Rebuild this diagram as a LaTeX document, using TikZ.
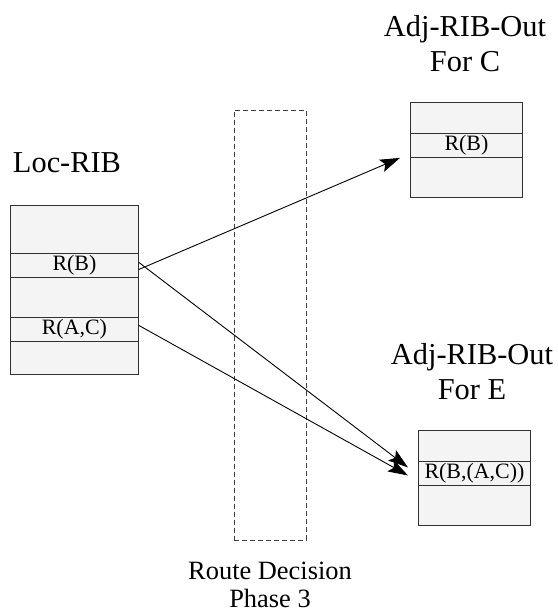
\documentclass[tikz,border=0pt]{standalone}
\usepackage{fontspec}
\setmainfont{Liberation Serif}
\usetikzlibrary{arrows.meta}
\usetikzlibrary{positioning}
\definecolor{rib-fill}{HTML}{F4F4F4}
\definecolor{rib-line}{HTML}{303030}

\begin{document}
\begin{tikzpicture}[x=1bp, y=-1bp,
  ribtable/.style={draw=rib-line, fill=rib-fill, line width=0.9bp, inner sep=0, anchor=north west},
  ribrow/.style={draw=rib-line, fill=rib-fill, line width=0.9bp, inner sep=0, anchor=north west,
    minimum height=24bp, font=\fontsize{22}{24}\selectfont},
  title/.style={align=center, inner sep=0, font=\fontsize{30.5}{35}\selectfont},
  route/.style={draw=black!75, dash pattern=on 5bp off 3bp, line width=0.8bp, inner sep=0, anchor=north west},
  arr/.style={line width=0.9bp, -{Stealth[length=20bp, width=13bp, inset=4bp]}}]
\useasboundingbox (0,0) rectangle (558,614);
\pgfmathsetmacro{\rowh}{24}
% phase 3 strip
\node[route, minimum width=72bp, minimum height=430bp]
  (phase)
  at (234,110)
  {};
\node[title, font=\fontsize{26.5}{28}\selectfont]
  (phaseT)
  at (270,585)
  {Route Decision\\Phase 3};
% Loc-RIB
\node[ribtable, minimum width=128bp, minimum height=169bp]
  (loc)
  at (10,205)
  {};
\node[title]
  (locT)
  at (67,163)
  {Loc-RIB};
\node[ribrow, minimum width=128bp]
  (locB)
  at (10,253)
  {R(B)};
\node[ribrow, minimum width=128bp]
  (locAC)
  at (10,317)
  {R(A,C)};
% Adj-RIB-Out tables
\foreach \name/\x/\y/\peer/\tx/\entry in {
    C/410/102/C/465/R(B),
    E/418/430/E/472/R(B{,}(A{,}C))} {
  \node[ribtable, minimum width=112bp, minimum height=95bp]
    (rib\name)
    at (\x,\y)
    {};
  \node[title]
    (rib\name T)
    at (\tx,\y-58)
    {Adj-RIB-Out\\For \peer};
  \node[ribrow, minimum width=112bp]
    (rib\name B)
    at (\x,\y+31)
    {\entry};
}
% routes
\draw[arr] ([yshift=-4bp]locB.east) -- ([xshift=-10bp]ribCB.south west);
\draw[arr] ([yshift=3bp]locB.east) -- ([xshift=-10bp, yshift=6bp]ribEB.west);
\draw[arr] ([yshift=4bp]locAC.east) -- ([xshift=-10bp, yshift=-2bp]ribEB.west);
\end{tikzpicture}
\end{document}
